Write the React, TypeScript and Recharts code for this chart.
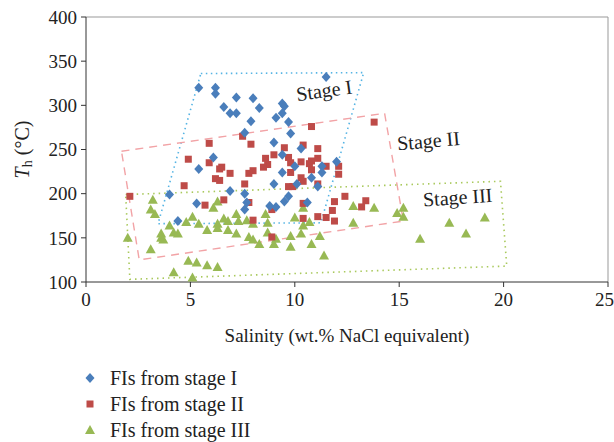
import { ScatterChart, Scatter, XAxis, YAxis, ReferenceLine, ReferenceDot, Legend } from 'recharts'

type Pt = [number, number]

// salinity (wt.% NaCl eqv), Th (°C)
const stage1Points: Pt[] = [
  [5.4, 320], [6.2, 320], [6.2, 313], [7.2, 309], [8.0, 308], [6.6, 298], [6.9, 291], [7.2, 291],
  [8.3, 297], [9.4, 302], [9.5, 299], [9.4, 291], [9.1, 286], [7.9, 282], [9.7, 281], [11.5, 332],
  [7.6, 269], [9.8, 268], [9.0, 258], [10.3, 251], [9.4, 244], [6.1, 241], [10.0, 231], [9.4, 224],
  [11.3, 231], [11.3, 224], [12.0, 236], [10.8, 218], [5.4, 228], [4.0, 199], [5.3, 189], [4.4, 169],
  [9.0, 211], [10.1, 211], [11.1, 208], [6.9, 203], [7.6, 200], [9.7, 197], [9.5, 191], [7.7, 190],
  [8.8, 186], [9.1, 185], [10.6, 190], [7.6, 182],
]

const stage2Points: Pt[] = [
  [10.8, 276], [7.5, 265], [7.9, 256], [10.4, 255], [11.1, 251], [9.5, 252], [9.0, 244], [8.6, 240],
  [9.7, 241], [9.8, 235], [8.7, 233], [8.5, 230], [8.0, 226], [7.8, 223], [6.9, 223], [6.5, 230],
  [10.3, 236], [10.7, 234], [10.8, 237], [11.1, 240], [10.8, 227], [11.5, 231], [12.1, 231], [12.1, 222],
  [5.9, 257], [6.2, 217], [10.3, 218], [9.8, 224], [6.4, 215], [7.6, 211], [9.7, 208], [9.9, 208],
  [10.4, 214], [11.1, 211], [6.6, 193], [7.8, 190], [8.9, 182], [10.4, 189], [12.4, 197], [11.9, 191],
  [13.4, 192], [13.2, 185], [11.8, 181], [11.1, 174], [11.5, 173], [11.9, 169], [10.4, 172], [8.0, 170],
  [8.9, 151], [2.1, 197], [4.7, 209], [5.7, 187], [4.9, 239], [5.9, 235], [6.4, 228], [13.8, 281],
]

const stage3Points: Pt[] = [
  [3.2, 193], [3.1, 182], [3.3, 177], [2.0, 150], [3.6, 155], [3.6, 150], [3.7, 148], [4.0, 164],
  [4.2, 156], [4.4, 155], [3.1, 137], [4.8, 168], [5.1, 174], [5.4, 166], [5.8, 159], [6.1, 184],
  [6.3, 191], [6.3, 166], [6.3, 161], [4.9, 124], [5.3, 122], [5.8, 119], [6.3, 117], [4.2, 111],
  [5.1, 105], [7.2, 177], [6.6, 172], [6.8, 169], [7.3, 169], [7.7, 170], [8.0, 166], [6.8, 159],
  [7.2, 155], [7.8, 151], [8.0, 148], [8.3, 143], [8.6, 177], [8.7, 167], [8.7, 156], [9.1, 149],
  [9.0, 143], [9.8, 152], [9.8, 140], [10.0, 173], [10.3, 155], [10.4, 184], [10.4, 164], [10.7, 168],
  [10.8, 143], [11.2, 152], [11.4, 130], [12.8, 186], [12.8, 167], [13.8, 184], [14.9, 178], [15.2, 184],
  [15.2, 174], [16.0, 149], [17.4, 167], [18.2, 155], [19.1, 173],
]

// outlines drawn round each stage (closed)
const stage1Box: Pt[] = [[5.5, 336], [13.3, 337], [11.25, 167], [3.45, 166], [5.5, 336]]
const stage2Box: Pt[] = [[1.7, 248], [14.3, 291], [15.2, 169], [2.55, 125], [1.7, 248]]
const stage3Box: Pt[] = [[1.9, 199], [19.85, 214], [20.15, 118], [2.1, 103], [1.9, 199]]

const xTicks = [0, 5, 10, 15, 20, 25]
const yTicks = [100, 150, 200, 250, 300, 350, 400]

const legendNames = ['FIs from stage I', 'FIs from stage II', 'FIs from stage III']

const FONT = '"Liberation Serif", "DejaVu Serif", serif'
const BLUE = '#4a7ebb'
const RED = '#be4b48'
const GREEN = '#98b954'

const toRows = (pts: Pt[]) => pts.map(([x, y]) => ({ x, y }))

const Diamond = ({ cx, cy, fill }: any) => (
  <polygon points={`${cx},${cy - 5} ${cx + 4.5},${cy} ${cx},${cy + 5} ${cx - 4.5},${cy}`} fill={fill} />
)
const Square = ({ cx, cy, fill }: any) => <rect x={cx - 3.5} y={cy - 3.5} width={7} height={7} fill={fill} />
const Triangle = ({ cx, cy, fill }: any) => (
  <polygon points={`${cx},${cy - 5} ${cx + 5},${cy + 4} ${cx - 5},${cy + 4}`} fill={fill} />
)
const Nothing = () => <g />

const stageLabel = (text: string, angle: number) => ({ cx, cy }: any) => (
  <text x={cx} y={cy} textAnchor="middle" dominantBaseline="central" fontFamily={FONT} fontSize={20} fill="#222"
    transform={`rotate(${angle} ${cx} ${cy})`}>{text}</text>
)

function YLabel({ viewBox }: any) {
  const cx = 22
  const cy = viewBox.y + viewBox.height / 2
  return (
    <text x={cx} y={cy} textAnchor="middle" dominantBaseline="central" fontFamily={FONT} fontSize={20} fill="#222"
      transform={`rotate(-90 ${cx} ${cy})`}>
      <tspan fontStyle="italic">T</tspan>
      <tspan fontSize={14} dy={5}>h</tspan>
      <tspan dy={-5}> (°C)</tspan>
    </text>
  )
}

function LegendBox() {
  const markers = [
    <polygon key="d" points="6,1 10.5,6 6,11 1.5,6" fill={BLUE} />,
    <rect key="s" x={2.5} y={2.5} width={7} height={7} fill={RED} />,
    <polygon key="t" points="6,1 11,10 1,10" fill={GREEN} />,
  ]
  return (
    <div style={{ fontFamily: FONT, fontSize: 20, color: '#222' }}>
      {legendNames.map((n, i) => (
        <div key={n} style={{ display: 'flex', alignItems: 'center', height: 26 }}>
          <svg width={12} height={12} style={{ marginRight: 14 }}>{markers[i]}</svg>
          <span>{n}</span>
        </div>
      ))}
    </div>
  )
}

export default function App() {
  return (
    <div style={{ position: 'absolute', left: 0, top: 0, width: 614, height: 442, background: '#fff' }}>
      <ScatterChart width={614} height={442} margin={{ top: 17, right: 6, left: 0, bottom: 100 }}>
        <XAxis type="number" dataKey="x" domain={[0, 25]} ticks={xTicks} allowDataOverflow
          height={60} tickSize={5} tickMargin={6} axisLine={{ stroke: '#333' }} tickLine={{ stroke: '#333' }}
          tick={{ fontSize: 19, fill: '#222', fontFamily: FONT }}
          label={{ value: 'Salinity (wt.% NaCl equivalent)', position: 'insideBottom', offset: 0, fontSize: 19, fill: '#222', fontFamily: FONT }} />
        <YAxis type="number" dataKey="y" domain={[100, 400]} ticks={yTicks} allowDataOverflow
          width={86} tickSize={5} tickMargin={4} axisLine={{ stroke: '#333' }} tickLine={{ stroke: '#333' }}
          tick={{ fontSize: 19, fill: '#222', fontFamily: FONT }}
          label={<YLabel />} />
        <ReferenceLine y={400} stroke="#999" />
        <ReferenceLine x={25} stroke="#999" />

        <Scatter data={toRows(stage1Box)} shape={<Nothing />} line={{ stroke: '#55b4e4', strokeWidth: 1.6, strokeDasharray: '1.5 3.5' }}
          lineType="joint" legendType="none" isAnimationActive={false} />
        <Scatter data={toRows(stage2Box)} shape={<Nothing />} line={{ stroke: '#f2a3a6', strokeWidth: 1.4, strokeDasharray: '8 6' }}
          lineType="joint" legendType="none" isAnimationActive={false} />
        <Scatter data={toRows(stage3Box)} shape={<Nothing />} line={{ stroke: '#a9c95c', strokeWidth: 1.6, strokeDasharray: '1.5 4' }}
          lineType="joint" legendType="none" isAnimationActive={false} />

        <Scatter name={legendNames[2]} data={toRows(stage3Points)} fill={GREEN} shape={Triangle} isAnimationActive={false} />
        <Scatter name={legendNames[1]} data={toRows(stage2Points)} fill={RED} shape={Square} isAnimationActive={false} />
        <Scatter name={legendNames[0]} data={toRows(stage1Points)} fill={BLUE} shape={Diamond} isAnimationActive={false} />

        <ReferenceDot x={11.4} y={317} r={0} shape={stageLabel('Stage I', -8)} />
        <ReferenceDot x={16.4} y={260} r={0} shape={stageLabel('Stage II', -5)} />
        <ReferenceDot x={17.8} y={196} r={0} shape={stageLabel('Stage III', -4)} />

        <Legend layout="vertical" align="center" verticalAlign="middle" content={<LegendBox />}
          wrapperStyle={{ position: 'absolute', left: 84, top: 365, width: 280, height: 80 }} />
      </ScatterChart>
    </div>
  )
}
